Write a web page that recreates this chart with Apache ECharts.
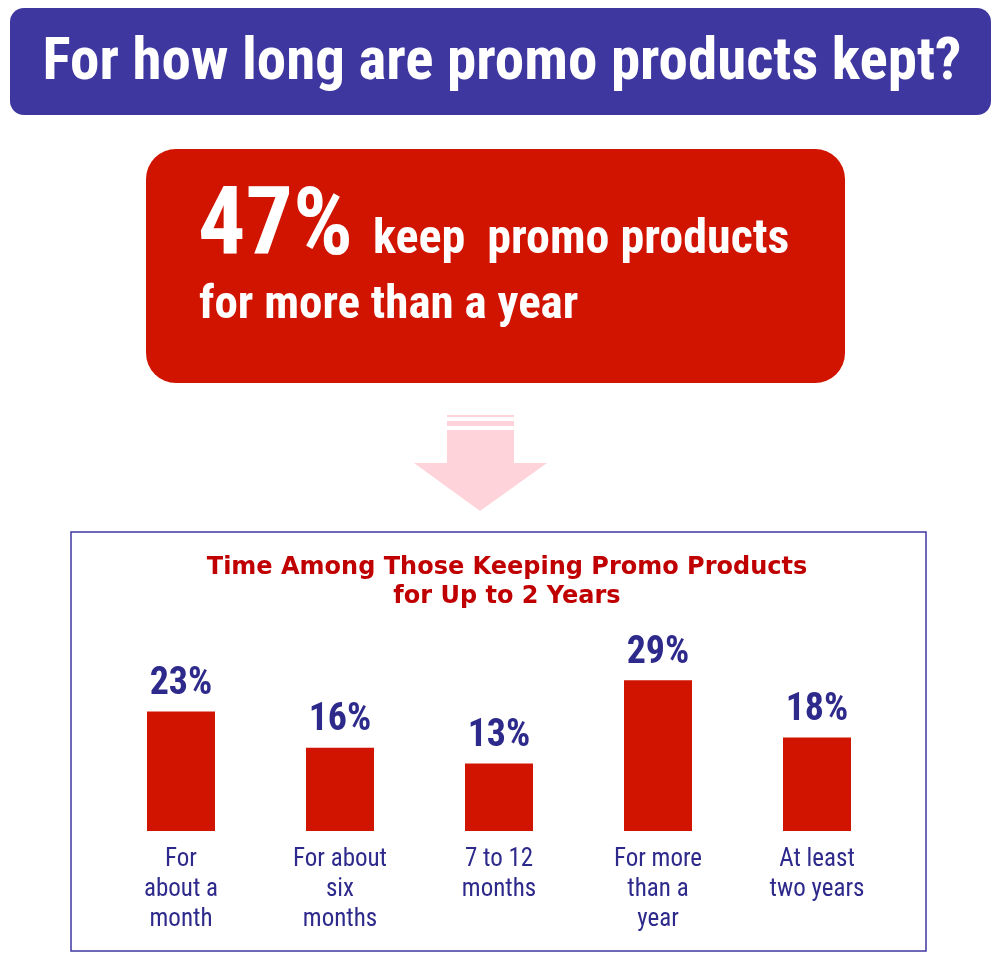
<!DOCTYPE html>
<html><head><meta charset="utf-8">
<script src="https://cdn.jsdelivr.net/npm/echarts@6/dist/echarts.min.js"></script>
<style>html,body{margin:0;padding:0;background:#fff}#c{width:1000px;height:964px}</style>
</head><body><div id="c"></div>
<script>
var categories = ['For\nabout a\nmonth', 'For about\nsix\nmonths', '7 to 12\nmonths', 'For more\nthan a\nyear', 'At least\ntwo years'];
var values = [23, 16, 13, 29, 18];
var NF = '"Liberation Sans Narrow", "Roboto Condensed", Arial, sans-serif';
var chart = echarts.init(document.getElementById('c'));
chart.setOption({
  animation: false,
  grid: {left: 101.5, width: 795, bottom: 133, top: 649},
  xAxis: {type: 'category', data: categories, axisLine: {show: false}, axisTick: {show: false},
    axisLabel: {color: '#2e2a8c', fontFamily: NF, fontSize: 25, lineHeight: 30, margin: 14}},
  yAxis: {type: 'value', min: 0, max: 35, show: false, splitLine: {show: false}},
  series: [{type: 'bar', data: values, barWidth: 68, itemStyle: {color: '#d01400'},
    label: {show: true, position: 'top', distance: 8, formatter: '{c}%', color: '#2e2a8c', fontFamily: NF, fontWeight: 'bold', fontSize: 38}}],
  graphic: [
    {type: 'rect', shape: {x: 10, y: 8, width: 981, height: 107, r: 14}, style: {fill: '#3f37a0'}},
    {type: 'text', x: 502, y: 64, style: {text: 'For how long are promo products kept?', fill: '#fff', font: 'bold 59px ' + NF, align: 'center', verticalAlign: 'middle'}},
    {type: 'rect', shape: {x: 146, y: 149, width: 699, height: 234, r: 30}, style: {fill: '#d01400'}},
    {type: 'text', x: 198, y: 230, style: {text: '47%', fill: '#fff', font: 'bold 94px ' + NF, verticalAlign: 'middle'}},
    {type: 'text', x: 373, y: 241, style: {text: 'keep  promo products', fill: '#fff', font: 'bold 48px ' + NF, verticalAlign: 'middle'}},
    {type: 'text', x: 199, y: 306, style: {text: 'for more than a year', fill: '#fff', font: 'bold 47px ' + NF, verticalAlign: 'middle'}},
    {type: 'rect', shape: {x: 447, y: 415, width: 67, height: 2}, style: {fill: '#ffd3da'}},
    {type: 'rect', shape: {x: 447, y: 421, width: 67, height: 5}, style: {fill: '#ffd3da'}},
    {type: 'polygon', shape: {points: [[447,430],[514,430],[514,463],[547,463],[480,511],[414,463],[447,463]]}, style: {fill: '#ffd3da'}},
    {type: 'rect', shape: {x: 71, y: 532, width: 855, height: 419}, style: {fill: 'none', stroke: '#3f37a0', lineWidth: 1.5}},
    {type: 'text', x: 507, y: 582, style: {text: 'Time Among Those Keeping Promo Products\nfor Up to 2 Years', fill: '#c00000', font: 'bold 24px "DejaVu Sans", sans-serif', lineHeight: 29, align: 'center', verticalAlign: 'middle'}}
  ]
});
</script></body></html>
